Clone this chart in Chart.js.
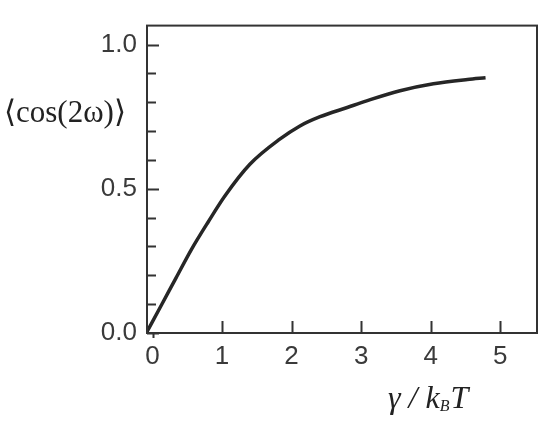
<!DOCTYPE html>
<html>
<head>
<meta charset="utf-8">
<script src="https://cdn.jsdelivr.net/npm/chart.js@4.4.1/dist/chart.umd.min.js"></script>
<style>html,body{margin:0;padding:0;background:#fff}</style>
</head>
<body>
<canvas id="c" width="550" height="428"></canvas>
<script>
const gammaKT = [-0.09, 0.13, 0.34, 0.56, 0.80, 1.04, 1.40, 1.83, 2.12, 2.41, 2.80, 3.08, 3.56, 4.04, 4.53, 4.79];
const cos2w   = [0.0, 0.098, 0.192, 0.290, 0.385, 0.475, 0.585, 0.672, 0.718, 0.750, 0.782, 0.805, 0.840, 0.864, 0.879, 0.885];
const xTicks = [0, 1, 2, 3, 4, 5];
const yTicks = [0, 0.1, 0.2, 0.3, 0.4, 0.5, 0.6, 0.7, 0.8, 0.9, 1.0];
const yTickLabels = ['0.0', '', '', '', '', '0.5', '', '', '', '', '1.0'];
const yTitle = '\u27E8cos(2\u03C9)\u27E9';

const ink = '#333333';

// frame, inward ticks and the two axis titles
const framePlugin = {
    id: 'frame',
    afterDraw(chart) {
        const ctx = chart.ctx;
        const a = chart.chartArea;
        const xs = chart.scales.x, ys = chart.scales.y;
        ctx.save();
        ctx.strokeStyle = ink;
        ctx.lineWidth = 2;
        ctx.strokeRect(a.left, a.top, a.right - a.left, a.bottom - a.top);
        ctx.beginPath();
        yTicks.forEach((v, i) => {
            const y = Math.round(ys.getPixelForValue(v)) + 0.5;
            const len = yTickLabels[i] ? 12 : 9;
            ctx.moveTo(a.left, y);
            ctx.lineTo(a.left + len, y);
        });
        xTicks.forEach(v => {
            const x = Math.round(xs.getPixelForValue(v)) + 0.5;
            ctx.moveTo(x, v === 0 ? a.bottom + 5 : a.bottom);
            ctx.lineTo(x, v === 0 ? a.bottom : a.bottom - 12);
        });
        ctx.stroke();

        ctx.fillStyle = '#222';
        ctx.textBaseline = 'middle';
        ctx.textAlign = 'left';
        ctx.font = '30px "Liberation Serif"';
        const w = ctx.measureText(yTitle).width;
        ctx.font = Math.round(30 * 124 / w) + 'px "Liberation Serif"';
        ctx.fillText(yTitle, 4, 114);

        // gamma / k_B T
        ctx.textBaseline = 'alphabetic';
        ctx.font = 'italic 32px "Liberation Serif"';
        let x = 388;
        const base = 408;
        const p1 = '\u03B3 / k';
        ctx.fillText(p1, x, base);
        x += ctx.measureText(p1).width;
        ctx.font = 'italic 16px "Liberation Serif"';
        ctx.fillText('B', x, base + 3);
        x += ctx.measureText('B').width + 1;
        ctx.font = 'italic 32px "Liberation Serif"';
        ctx.fillText('T', x, base);
        ctx.restore();
    }
};

new Chart(document.getElementById('c'), {
    type: 'line',
    data: {
        datasets: [{
            data: gammaKT.map((x, i) => ({ x: x, y: cos2w[i] })),
            borderColor: '#262626',
            borderWidth: 3.5,
            pointRadius: 0,
            fill: false,
            cubicInterpolationMode: 'monotone'
        }]
    },
    options: {
        responsive: false,
        animation: false,
        layout: { padding: { top: 13, right: 13, left: 0, bottom: 0 } },
        plugins: { legend: { display: false }, tooltip: { enabled: false } },
        scales: {
            x: {
                type: 'linear',
                min: -0.08,
                max: 5.53,
                afterBuildTicks: s => { s.ticks = xTicks.map(v => ({ value: v })); },
                grid: { display: false, drawTicks: false },
                border: { display: false },
                ticks: {
                    font: { family: 'Liberation Sans', size: 26 },
                    color: '#3a3a3a',
                    padding: 8,
                    maxRotation: 0,
                    autoSkip: false,
                    callback: v => String(v)
                },
                afterFit: s => { s.height = 95; }
            },
            y: {
                type: 'linear',
                min: 0,
                max: 1.066,
                afterBuildTicks: s => { s.ticks = yTicks.map(v => ({ value: v })); },
                grid: { display: false, drawTicks: false },
                border: { display: false },
                ticks: {
                    font: { family: 'Liberation Sans', size: 26 },
                    color: '#3a3a3a',
                    padding: 10,
                    autoSkip: false,
                    callback: (v, i) => yTickLabels[i]
                },
                afterFit: s => { s.width = 147; }
            }
        }
    },
    plugins: [framePlugin]
});
</script>
</body>
</html>
